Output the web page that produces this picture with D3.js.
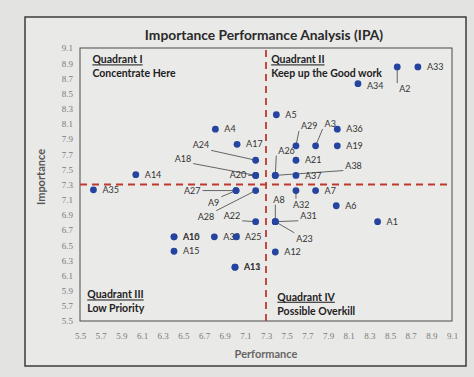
<!DOCTYPE html>
<html>
<head>
<meta charset="utf-8">
<script src="https://cdn.jsdelivr.net/npm/d3@7"></script>
<style>
  body { margin: 0; background: #e3e3e1; }
  svg { display: block; }
</style>
</head>
<body>
<div id="chart"></div>
<script>
// attribute codes, performance (x) and importance (y)
const codes       = ['A1','A2','A3','A4','A5','A6','A7','A8','A9','A10','A11','A12','A13','A14','A15','A16','A17','A18','A19','A20',
                     'A21','A22','A23','A24','A25','A26','A27','A28','A29','A30','A31','A32','A33','A34','A35','A36','A37','A38'];
const performance = [8.38, 8.57, 7.78, 6.81, 7.40, 7.98, 7.78, 7.39, 7.01, 6.41, 7.00, 7.39, 7.00, 6.04, 6.41, 6.41, 7.02, 7.20, 7.99, 7.20,
                     7.59, 7.20, 7.39, 7.20, 7.01, 7.39, 7.01, 7.20, 7.59, 6.80, 7.39, 7.59, 8.77, 8.19, 5.63, 7.99, 7.59, 7.39];
const importance  = [6.81, 8.85, 7.81, 8.03, 8.22, 7.02, 7.22, 6.81, 7.22, 6.61, 6.21, 6.41, 6.21, 7.43, 6.42, 6.61, 7.83, 7.42, 7.81, 7.42,
                     7.62, 6.81, 6.81, 7.62, 6.61, 7.42, 7.22, 7.22, 7.81, 6.61, 6.81, 7.22, 8.85, 8.63, 7.23, 8.03, 7.42, 7.42];

const xTicks = ['5.5','5.7','5.9','6.1','6.3','6.5','6.7','6.9','7.1','7.3','7.5','7.7','7.9','8.1','8.3','8.5','8.7','8.9','9.1'];
const yTicks = xTicks;
const meanPerformance = 7.3;
const meanImportance = 7.3;

const quadrants = [
  { title: 'Quadrant I',   note: 'Concentrate Here',      x: 5.62, y: 8.95 },
  { title: 'Quadrant II',  note: 'Keep up the Good work', x: 7.35, y: 8.95 },
  { title: 'Quadrant III', note: 'Low Priority',          x: 5.57, y: 5.85 },
  { title: 'Quadrant IV',  note: 'Possible Overkill',     x: 7.41, y: 5.82 }
];

// label offsets in px from the dot (default: right of the dot), lead = draw leader line
const labelPos = {
  A2:  { dx: 2,   dy: 22, lead: true },
  A34: { dx: 9,   dy: 2 },
  A24: { dx: -63, dy: -15, lead: true },
  A18: { dx: -81, dy: -17, lead: true },
  A20: { dx: -26, dy: -1,  lead: true },
  A26: { dx: 3,   dy: -25, lead: true },
  A38: { dx: 70,  dy: -10, lead: true },
  A29: { dx: 5,   dy: -20, lead: true },
  A3:  { dx: 9,   dy: -22, lead: true },
  A27: { dx: -52, dy: 0,   lead: true },
  A9:  { dx: -28, dy: 12,  lead: true },
  A28: { dx: -58, dy: 26,  lead: true },
  A32: { dx: -3,  dy: 14,  lead: true },
  A8:  { dx: -2,  dy: -22, lead: true },
  A31: { dx: 25,  dy: -6,  lead: true },
  A23: { dx: 21,  dy: 17,  lead: true },
  A22: { dx: -32, dy: -6,  lead: true }
};

const width = 474, height = 377;
const plot = { left: 80, right: 452, top: 48, bottom: 321 };

const svg = d3.select('#chart').append('svg')
  .attr('width', width)
  .attr('height', height);

// outer chart frame
svg.append('rect')
  .attr('x', 25).attr('y', 17)
  .attr('width', 441).attr('height', 349)
  .attr('fill', '#e9e9e7')
  .attr('stroke', '#3d3d3d')
  .attr('stroke-width', 1.5);

const x = d3.scaleLinear().domain([5.5, 9.1]).range([plot.left, plot.right]);
const y = d3.scaleLinear().domain([5.5, 9.1]).range([plot.bottom, plot.top]);

svg.append('text')
  .attr('x', 264).attr('y', 40)
  .attr('text-anchor', 'middle')
  .style('font', 'bold 13.8px Lato, sans-serif')
  .attr('fill', '#2a2a2a')
  .text('Importance Performance Analysis (IPA)');

// plot border
svg.append('rect')
  .attr('x', plot.left).attr('y', plot.top)
  .attr('width', plot.right - plot.left).attr('height', plot.bottom - plot.top)
  .attr('fill', '#eaeae8')
  .attr('stroke', '#4a4a4a')
  .attr('stroke-width', 1);

const xAxis = svg.append('g')
  .attr('transform', `translate(0, ${plot.bottom + 9})`)
  .call(d3.axisBottom(x).tickValues(xTicks.map(Number)).tickFormat(d3.format('.1f')).tickSize(0));
const yAxis = svg.append('g')
  .attr('transform', `translate(${plot.left - 4}, 0)`)
  .call(d3.axisLeft(y).tickValues(yTicks.map(Number)).tickFormat(d3.format('.1f')).tickSize(0));
[xAxis, yAxis].forEach(a => {
  a.select('.domain').remove();
  a.selectAll('text')
    .attr('fill', '#7a7a7a')
    .style('font', '9px "Liberation Serif", serif');
});

svg.append('text')
  .attr('transform', 'translate(45, 177) rotate(-90)')
  .attr('text-anchor', 'middle')
  .style('font', 'bold 11px Lato, sans-serif')
  .attr('fill', '#555')
  .text('Importance');

svg.append('text')
  .attr('x', 266).attr('y', 358)
  .attr('text-anchor', 'middle')
  .style('font', 'bold 11px Lato, sans-serif')
  .attr('fill', '#666')
  .text('Performance');

// mean lines
const dashStyle = g => g.attr('stroke', '#c0392f').attr('stroke-width', 1.8).attr('stroke-dasharray', '7,5');
svg.append('line')
  .attr('x1', x(meanPerformance)).attr('x2', x(meanPerformance))
  .attr('y1', plot.top + 2).attr('y2', plot.bottom)
  .call(dashStyle);
svg.append('line')
  .attr('x1', plot.left).attr('x2', plot.right)
  .attr('y1', y(meanImportance)).attr('y2', y(meanImportance))
  .call(dashStyle);

// quadrant captions
const quad = svg.append('g').selectAll('g')
  .data(quadrants)
  .enter()
  .append('g')
  .attr('transform', d => `translate(${x(d.x)}, ${y(d.y)})`)
  .style('font', 'bold 10.5px Lato, sans-serif')
  .attr('fill', '#222');
quad.append('text')
  .attr('y', 4)
  .style('text-decoration', 'underline')
  .text(d => d.title);
quad.append('text')
  .attr('y', 18)
  .text(d => d.note);

const points = codes.map((c, i) => ({ code: c, p: performance[i], imp: importance[i] }));

const leaders = svg.append('g');
const labels = svg.append('g')
  .selectAll('text')
  .data(points)
  .enter()
  .append('text')
  .attr('x', d => x(d.p) + (labelPos[d.code] ? labelPos[d.code].dx : 9))
  .attr('y', d => y(d.imp) + (labelPos[d.code] ? labelPos[d.code].dy : 0))
  .attr('dy', '0.35em')
  .style('font', '9px Lato, sans-serif')
  .attr('fill', '#333')
  .text(d => d.code);

// leader lines from nearest label edge to the dot
labels.each(function(d) {
  const lp = labelPos[d.code];
  if (!lp || !lp.lead) return;
  const b = this.getBBox();
  const cx = x(d.p), cy = y(d.imp);
  const px = Math.max(b.x - 2, Math.min(cx, b.x + b.width + 2));
  const py = Math.max(b.y, Math.min(cy, b.y + b.height));
  leaders.append('line')
    .attr('x1', px).attr('y1', py)
    .attr('x2', cx).attr('y2', cy)
    .attr('stroke', '#555')
    .attr('stroke-width', 0.9);
});

svg.append('g')
  .selectAll('circle')
  .data(points)
  .enter()
  .append('circle')
  .attr('cx', d => x(d.p))
  .attr('cy', d => y(d.imp))
  .attr('r', 3.4)
  .attr('fill', '#2444a0');
</script>
</body>
</html>
